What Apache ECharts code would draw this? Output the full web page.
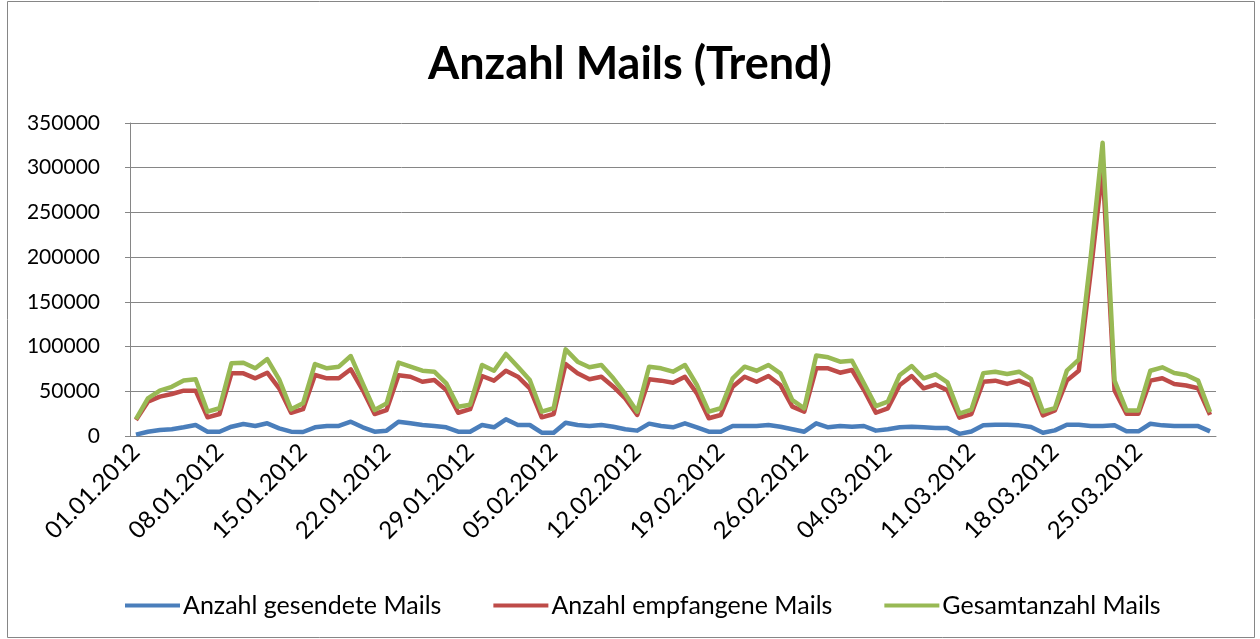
<!DOCTYPE html>
<html>
<head>
<meta charset="utf-8">
<script src="https://cdn.jsdelivr.net/npm/echarts@6/dist/echarts.min.js"></script>
<style>
  html, body { margin: 0; padding: 0; background: #ffffff; }
  #chart { width: 1260px; height: 639px; }
</style>
</head>
<body>
<div id="chart"></div>
<script>
const categories = [
  "01.01.2012","02.01.2012","03.01.2012","04.01.2012","05.01.2012","06.01.2012","07.01.2012",
  "08.01.2012","09.01.2012","10.01.2012","11.01.2012","12.01.2012","13.01.2012","14.01.2012",
  "15.01.2012","16.01.2012","17.01.2012","18.01.2012","19.01.2012","20.01.2012","21.01.2012",
  "22.01.2012","23.01.2012","24.01.2012","25.01.2012","26.01.2012","27.01.2012","28.01.2012",
  "29.01.2012","30.01.2012","31.01.2012","01.02.2012","02.02.2012","03.02.2012","04.02.2012",
  "05.02.2012","06.02.2012","07.02.2012","08.02.2012","09.02.2012","10.02.2012","11.02.2012",
  "12.02.2012","13.02.2012","14.02.2012","15.02.2012","16.02.2012","17.02.2012","18.02.2012",
  "19.02.2012","20.02.2012","21.02.2012","22.02.2012","23.02.2012","24.02.2012","25.02.2012",
  "26.02.2012","27.02.2012","28.02.2012","29.02.2012","01.03.2012","02.03.2012","03.03.2012",
  "04.03.2012","05.03.2012","06.03.2012","07.03.2012","08.03.2012","09.03.2012","10.03.2012",
  "11.03.2012","12.03.2012","13.03.2012","14.03.2012","15.03.2012","16.03.2012","17.03.2012",
  "18.03.2012","19.03.2012","20.03.2012","21.03.2012","22.03.2012","23.03.2012","24.03.2012",
  "25.03.2012","26.03.2012","27.03.2012","28.03.2012","29.03.2012","30.03.2012","31.03.2012"
];

const gesendete = [
  1500, 4800, 6700, 7500, 9700, 12300, 4800,
  4800, 10400, 13400, 11200, 14200, 8600, 4800,
  4500, 9700, 11200, 11200, 16000, 9700, 4800,
  6000, 16000, 14200, 12300, 11200, 9700, 4800,
  4800, 12300, 9700, 18700, 12300, 12300, 3700,
  3700, 14900, 12300, 11200, 12300, 10400, 7500,
  6000, 13800, 11200, 9700, 14200, 9700, 4800,
  4800, 11200, 11200, 11200, 12300, 10400, 7500,
  4800, 14200, 9700, 11200, 10400, 11200, 6000,
  7500, 9700, 10400, 9700, 9000, 9000, 2400,
  5000, 12000, 12600, 12600, 11900, 10000, 3700,
  6300, 12600, 12600, 11100, 11100, 11900, 5200,
  5200, 13700, 11900, 11100, 11100, 11100, 5200
];

const empfangene = [
  17900, 38400, 44000, 47000, 50700, 50700, 20900,
  24600, 70100, 70100, 64500, 70800, 53300, 26000,
  30000, 68200, 64500, 64500, 74600, 51400, 24600,
  29000, 68000, 66300, 60700, 62600, 51400, 26000,
  30000, 67100, 61900, 73000, 66300, 53300, 20900,
  24600, 80500, 70100, 63400, 66300, 55100, 42100,
  23500, 63400, 61900, 59600, 66300, 47700, 19800,
  23500, 55100, 66300, 60700, 67100, 57000, 32800,
  27200, 75700, 75700, 70800, 73800, 51400, 26000,
  31000, 57000, 67100, 53300, 57500, 51000, 20500,
  24500, 60700, 61900, 58200, 61900, 56400, 23000,
  28600, 61900, 73000, 183000, 300000, 50800, 24800,
  24800, 61900, 64500, 58200, 56400, 53400, 23700
];

const gesamt = [
  19000, 42000, 50700, 55000, 62000, 63400, 27200,
  31000, 81300, 82000, 75700, 86000, 63400, 29800,
  36500, 80500, 75700, 77500, 89400, 58900, 29000,
  36500, 82000, 77500, 73000, 71900, 58900, 32800,
  35000, 79400, 73000, 91700, 77500, 62600, 27200,
  31000, 96900, 83100, 76800, 79400, 64500, 47000,
  27200, 77500, 75700, 71900, 79400, 57000, 27200,
  31000, 64500, 77500, 73000, 79400, 70100, 40200,
  31000, 90000, 88000, 83100, 84200, 58900, 33500,
  38400, 68200, 78300, 64500, 69000, 60000, 25000,
  29500, 70300, 71900, 69300, 71900, 63800, 27400,
  31100, 73000, 85300, 200000, 327800, 61900, 28600,
  28600, 73000, 76800, 70500, 68200, 61900, 26700
];

const seriesNames = ["Anzahl gesendete Mails", "Anzahl empfangene Mails", "Gesamtanzahl Mails"];
const yTicks = { min: 0, max: 350000, interval: 50000 };

const FONT = "Lato, 'Open Sans', sans-serif";
const colors = ["#4A7EBB", "#BE4B48", "#98B954"];

const chart = echarts.init(document.getElementById('chart'), null, { renderer: 'canvas' });

function lineSeries(name, data, color) {
  return {
    name: name,
    type: 'line',
    data: data,
    symbol: 'none',
    smooth: false,
    lineStyle: { color: color, width: 4.5, join: 'round' },
    itemStyle: { color: color }
  };
}

chart.setOption({
  animation: false,
  backgroundColor: '#ffffff',
  color: colors,
  title: {
    text: 'Anzahl Mails (Trend)',
    left: 'center',
    top: 37,
    textStyle: { fontFamily: FONT, fontWeight: 'bold', fontSize: 45, color: '#000000' }
  },
  graphic: [{
    type: 'rect',
    shape: { x: 7.5, y: 1.5, width: 1247, height: 636 },
    style: { fill: null, stroke: '#868686', lineWidth: 1 },
    silent: true,
    z: -1
  }],
  grid: { left: 130, right: 44, top: 123, bottom: 203, containLabel: false },
  legend: {
    data: seriesNames,
    left: 120,
    top: 588,
    itemWidth: 55,
    itemHeight: 4,
    itemGap: 52,
    icon: 'rect',
    textStyle: { fontFamily: FONT, fontSize: 25, color: '#000000', padding: [0, 0, 0, -2] }
  },
  xAxis: {
    type: 'category',
    data: categories,
    boundaryGap: true,
    axisLine: { show: true, lineStyle: { color: '#868686', width: 1 } },
    axisTick: { show: false },
    axisLabel: {
      interval: 6,
      rotate: 45,
      margin: 12,
      fontFamily: FONT,
      fontSize: 24,
      color: '#000000',
      hideOverlap: false
    },
    splitLine: { show: false }
  },
  yAxis: {
    type: 'value',
    min: yTicks.min,
    max: yTicks.max,
    interval: yTicks.interval,
    axisLine: { show: true, lineStyle: { color: '#868686', width: 1 } },
    axisTick: { show: true, length: 5, lineStyle: { color: '#868686' } },
    axisLabel: {
      margin: 30,
      fontFamily: FONT,
      fontSize: 21,
      color: '#000000',
      formatter: function (v) { return String(v); }
    },
    splitLine: { show: true, lineStyle: { color: '#868686', width: 1 } }
  },
  series: [
    lineSeries(seriesNames[0], gesendete, colors[0]),
    lineSeries(seriesNames[1], empfangene, colors[1]),
    lineSeries(seriesNames[2], gesamt, colors[2])
  ]
});
</script>
</body>
</html>
